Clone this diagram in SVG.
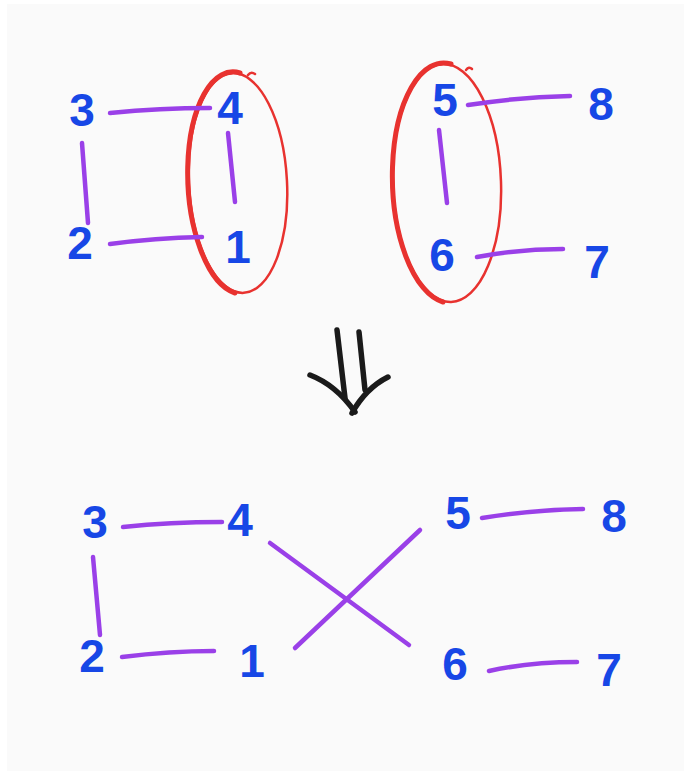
<svg xmlns="http://www.w3.org/2000/svg" width="684" height="771" viewBox="0 0 684 771">
<style>
.bg{fill:#fafafa}
.n{font-family:"Liberation Sans","DejaVu Sans",sans-serif;font-weight:bold;font-size:46px;fill:#1747e6;text-anchor:middle}
.e{stroke:#9a40e8;stroke-width:4.5;stroke-linecap:round;fill:none}
.ring{stroke:#e8322f;fill:none;stroke-linecap:round}
.arr{stroke:#1a1a1a;stroke-width:5.5;stroke-linecap:round;fill:none}
</style>
<rect width="684" height="771" fill="#ffffff"/>
<rect class="bg" x="7" y="4" width="677" height="767"/>

<g id="groups">
  <g id="ring-left">
    <ellipse class="ring" cx="238" cy="183" rx="49" ry="110" stroke-width="2.5" transform="rotate(-3 238 183)"/>
    <path class="ring" d="M 240 73 A 49 110 -3 0 0 235 293" stroke-width="5"/>
    <path class="ring" d="M 248 75 q 3 -4 7 -1" stroke-width="2.5"/>
  </g>
  <g id="ring-right">
    <ellipse class="ring" cx="447" cy="183" rx="54" ry="119" stroke-width="2.5" transform="rotate(-2 447 183)"/>
    <path class="ring" d="M 451 64 A 54 119 -2 0 0 443 302" stroke-width="5"/>
    <path class="ring" d="M 466 70 q 3 -4 6 -1" stroke-width="2.5"/>
  </g>
</g>

<g id="connectors">
  <path class="e" d="M 110 113 Q 160 108 210 108"/>
  <path class="e" d="M 82 143 L 88 223"/>
  <path class="e" d="M 110 244 Q 155 238 202 237"/>
  <path class="e" d="M 228 133 L 235 202"/>
  <path class="e" d="M 468 105 Q 520 97 570 96"/>
  <path class="e" d="M 439 130 L 447 203"/>
  <path class="e" d="M 477 257 Q 520 249 563 249"/>

  <path class="e" d="M 123 527 Q 170 522 222 522"/>
  <path class="e" d="M 93 557 L 100 635"/>
  <path class="e" d="M 122 657 Q 170 651 214 651"/>
  <path class="e" d="M 270 543 L 409 645"/>
  <path class="e" d="M 295 648 L 420 530"/>
  <path class="e" d="M 482 518 Q 530 510 583 509"/>
  <path class="e" d="M 489 671 Q 530 662 577 662"/>
</g>

<g id="transform-arrow">
  <path class="arr" d="M 337 330 L 345 398"/>
  <path class="arr" d="M 359 332 L 365 390"/>
  <path class="arr" d="M 310 375 Q 336 385 355 412"/>
  <path class="arr" d="M 388 377 Q 366 388 352 413"/>
</g>

<g id="n3-top"><text class="n" x="82" y="126">3</text></g>
<g id="n4-top"><text class="n" x="230" y="124">4</text></g>
<g id="n2-top"><text class="n" x="80" y="259">2</text></g>
<g id="n1-top"><text class="n" x="238" y="263">1</text></g>
<g id="n5-top"><text class="n" x="445" y="116">5</text></g>
<g id="n8-top"><text class="n" x="601" y="120">8</text></g>
<g id="n6-top"><text class="n" x="442" y="271">6</text></g>
<g id="n7-top"><text class="n" x="597" y="278">7</text></g>

<g id="n3-bot"><text class="n" x="95" y="538">3</text></g>
<g id="n4-bot"><text class="n" x="240" y="536">4</text></g>
<g id="n2-bot"><text class="n" x="92" y="672">2</text></g>
<g id="n1-bot"><text class="n" x="252" y="677">1</text></g>
<g id="n5-bot"><text class="n" x="458" y="529">5</text></g>
<g id="n8-bot"><text class="n" x="614" y="532">8</text></g>
<g id="n6-bot"><text class="n" x="455" y="680">6</text></g>
<g id="n7-bot"><text class="n" x="609" y="686">7</text></g>
</svg>
